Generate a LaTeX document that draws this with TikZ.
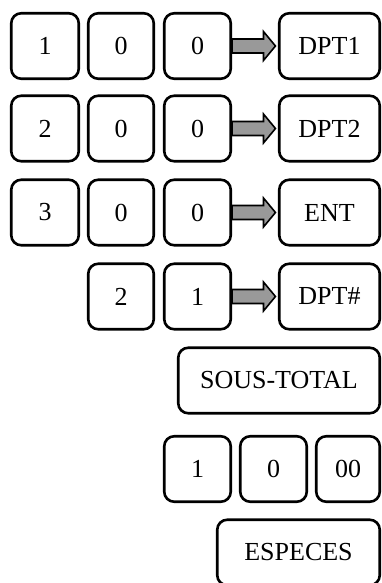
\documentclass[tikz,border=0pt]{standalone}
\usepackage{fontspec}
\setmainfont{Liberation Serif}
\usetikzlibrary{calc,backgrounds}
\definecolor{arrowgray}{RGB}{153,153,153}
\tikzset{
  key/.style={draw=black, line width=2.6pt, rounded corners=10pt, minimum height=65.5pt,
    inner sep=0pt, font=\fontsize{26}{31}\selectfont},
  kw/.style={key, minimum width=#1},
  fatarrow/.style={draw=black, line width=1.6pt, fill=arrowgray, line join=miter}
}
\newcommand\fatarr[2]{%
  \draw[fatarrow] ($(#1.east)+(0,-7)$) -- ($(#2.west)+(-14.5,-7)$) -- ($(#2.west)+(-14.5,-14.5)$)
    -- ($(#2.west)+(-2.5,0)$) -- ($(#2.west)+(-14.5,14.5)$) -- ($(#2.west)+(-14.5,7)$)
    -- ($(#1.east)+(0,7)$) -- cycle;}
\begin{document}
\begin{tikzpicture}[x=1pt,y=-1pt]
\useasboundingbox (0,0) rectangle (382,583);
% row 1
\node[kw=67.5pt] (a1) at (45,46) {1};
\node[kw=65.5pt] (b1) at (121,46) {0};
\node[kw=66.5pt] (c1) at (197.5,46) {0};
\node[kw=100.5pt] (d1) at (329.5,46) {DPT1};
% row 2
\node[kw=67.5pt] (a2) at (45,128.5) {2};
\node[kw=65.5pt] (b2) at (121,128.5) {0};
\node[kw=66.5pt] (c2) at (197.5,128.5) {0};
\node[kw=100.5pt] (d2) at (329.5,128.5) {DPT2};
% row 3
\node[kw=67.5pt] (a3) at (45,212.5) {3};
\node[kw=65.5pt] (b3) at (121,212.5) {0};
\node[kw=66.5pt] (c3) at (197.5,212.5) {0};
\node[kw=100.5pt] (d3) at (329.5,212.5) {ENT};
% row 4
\node[kw=65.5pt] (b4) at (121,296.5) {2};
\node[kw=66.5pt] (c4) at (197.5,296.5) {1};
\node[kw=100.5pt] (d4) at (329.5,296.5) {DPT\#};
% row 5
\node[kw=201.5pt] (st) at (279,380.5) {SOUS-TOTAL};
% row 6
\node[kw=66.5pt] (e1) at (197.5,469) {1};
\node[kw=66.5pt] (e2) at (273.5,469) {0};
\node[kw=63.5pt] (e3) at (348,469) {00};
% row 7
\node[kw=162.5pt] (es) at (298.5,552.5) {ESPECES};
\begin{scope}[on background layer]
\fatarr{c1}{d1}
\fatarr{c2}{d2}
\fatarr{c3}{d3}
\fatarr{c4}{d4}
\end{scope}
\end{tikzpicture}
\end{document}
